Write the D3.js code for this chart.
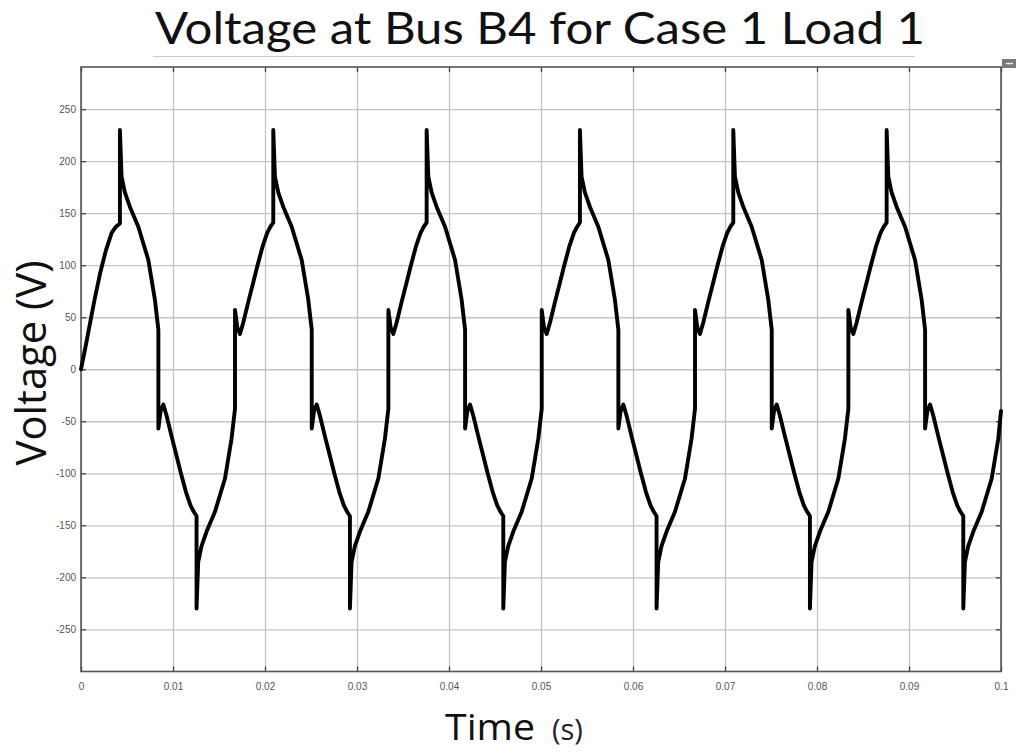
<!DOCTYPE html>
<html>
<head>
<meta charset="utf-8">
<script src="https://cdn.jsdelivr.net/npm/d3@7"></script>
<style>
  body { margin: 0; background: #fff; }
</style>
</head>
<body>
<div class="chart"></div>
<script>
const w = 1016;
const h = 752;

// plot box (pixels)
const plotL = 81;
const plotR = 1001;
const plotT = 67;
const plotB = 671.5;

const titleText = "Voltage at Bus B4 for Case 1 Load 1";

// trace, time in ms, one row per half cycle
const timeMs = [
  0, 0.5, 1.0, 1.5, 2.07, 2.7, 3.33, 3.8, 4.23, 4.23,
  4.41, 4.77, 5.32, 6.23, 7.32, 8.03, 8.41, 8.41,
  8.66, 8.95, 9.31, 9.86, 10.41, 10.86, 11.41, 11.91, 12.26, 12.56, 12.56,
  12.74, 13.10, 13.65, 14.56, 15.65, 16.36, 16.74, 16.74,
  16.99, 17.28, 17.64, 18.19, 18.74, 19.19, 19.74, 20.24, 20.59, 20.90, 20.90,
  21.08, 21.44, 21.99, 22.90, 23.99, 24.70, 25.08, 25.08,
  25.33, 25.62, 25.98, 26.53, 27.08, 27.53, 28.08, 28.58, 28.93, 29.23, 29.23,
  29.41, 29.77, 30.32, 31.23, 32.32, 33.03, 33.41, 33.41,
  33.66, 33.95, 34.31, 34.86, 35.41, 35.86, 36.41, 36.91, 37.26, 37.57, 37.57,
  37.75, 38.11, 38.66, 39.57, 40.66, 41.37, 41.75, 41.75,
  42.00, 42.29, 42.65, 43.20, 43.75, 44.20, 44.75, 45.25, 45.60, 45.90, 45.90,
  46.08, 46.44, 46.99, 47.90, 48.99, 49.70, 50.08, 50.08,
  50.33, 50.62, 50.98, 51.53, 52.08, 52.53, 53.08, 53.58, 53.93, 54.23, 54.23,
  54.41, 54.77, 55.32, 56.23, 57.32, 58.03, 58.41, 58.41,
  58.66, 58.95, 59.31, 59.86, 60.41, 60.86, 61.41, 61.91, 62.26, 62.56, 62.56,
  62.74, 63.10, 63.65, 64.56, 65.65, 66.36, 66.74, 66.74,
  66.99, 67.28, 67.64, 68.19, 68.74, 69.19, 69.74, 70.24, 70.59, 70.90, 70.90,
  71.08, 71.44, 71.99, 72.90, 73.99, 74.70, 75.08, 75.08,
  75.33, 75.62, 75.98, 76.53, 77.08, 77.53, 78.08, 78.58, 78.93, 79.23, 79.23,
  79.41, 79.77, 80.32, 81.23, 82.32, 83.03, 83.41, 83.41,
  83.66, 83.95, 84.31, 84.86, 85.41, 85.86, 86.41, 86.91, 87.26, 87.57, 87.57,
  87.75, 88.11, 88.66, 89.57, 90.66, 91.37, 91.75, 91.75,
  92.00, 92.29, 92.65, 93.20, 93.75, 94.20, 94.75, 95.25, 95.60, 95.90, 95.90,
  96.08, 96.44, 96.99, 97.90, 98.99, 99.70, 100.00
];

const voltage = [
  0, 22, 45, 68, 92, 114, 131, 137, 140, 230,
  185, 170, 156, 137, 105, 67, 38, -57,
  -40, -34, -45, -65, -84, -100, -118, -131, -137, -141, -230,
  -185, -170, -156, -137, -105, -67, -38, 57,
  40, 34, 45, 65, 84, 100, 118, 131, 137, 141, 230,
  185, 170, 156, 137, 105, 67, 38, -57,
  -40, -34, -45, -65, -84, -100, -118, -131, -137, -141, -230,
  -185, -170, -156, -137, -105, -67, -38, 57,
  40, 34, 45, 65, 84, 100, 118, 131, 137, 141, 230,
  185, 170, 156, 137, 105, 67, 38, -57,
  -40, -34, -45, -65, -84, -100, -118, -131, -137, -141, -230,
  -185, -170, -156, -137, -105, -67, -38, 57,
  40, 34, 45, 65, 84, 100, 118, 131, 137, 141, 230,
  185, 170, 156, 137, 105, 67, 38, -57,
  -40, -34, -45, -65, -84, -100, -118, -131, -137, -141, -230,
  -185, -170, -156, -137, -105, -67, -38, 57,
  40, 34, 45, 65, 84, 100, 118, 131, 137, 141, 230,
  185, 170, 156, 137, 105, 67, 38, -57,
  -40, -34, -45, -65, -84, -100, -118, -131, -137, -141, -230,
  -185, -170, -156, -137, -105, -67, -38, 57,
  40, 34, 45, 65, 84, 100, 118, 131, 137, 141, 230,
  185, 170, 156, 137, 105, 67, 38, -57,
  -40, -34, -45, -65, -84, -100, -118, -131, -137, -141, -230,
  -185, -170, -156, -137, -105, -67, -40
];

// axes
const xTicks = [0, 10, 20, 30, 40, 50, 60, 70, 80, 90, 100];
const xTickLabels = ["0", "0.01", "0.02", "0.03", "0.04", "0.05", "0.06", "0.07", "0.08", "0.09", "0.1"];
const yTicks = [-250, -200, -150, -100, -50, 0, 50, 100, 150, 200, 250];
const yTickLabels = ["-250", "-200", "-150", "-100", "-50", "0", "50", "100", "150", "200", "250"];

const svg = d3
  .select(".chart")
  .append("svg")
  .attr("width", w)
  .attr("height", h)
  .style("display", "block")
  .style("background", "#fff");

const xScale = d3.scaleLinear().domain([0, 100]).range([plotL, plotR]);
const yScale = d3.scaleLinear().domain([-290.5, 290.5]).range([plotB, plotT]);

//grid
const xGrid = svg
  .append("g")
  .attr("transform", `translate(0,${plotB})`)
  .call(d3.axisBottom(xScale).tickValues(xTicks).tickSize(-(plotB - plotT)).tickFormat(""));
const yGrid = svg
  .append("g")
  .attr("transform", `translate(${plotL},0)`)
  .call(d3.axisLeft(yScale).tickValues(yTicks).tickSize(-(plotR - plotL)).tickFormat(""));
[xGrid, yGrid].forEach((g) => {
  g.select(".domain").remove();
  g.selectAll("line").attr("stroke", "#c4c4c4").attr("stroke-width", 1.3);
});

//tick marks + labels
const xAxis = svg
  .append("g")
  .attr("transform", `translate(0,${plotB})`)
  .call(
    d3.axisBottom(xScale)
      .tickValues(xTicks)
      .tickSizeInner(-5)
      .tickSizeOuter(0)
      .tickPadding(11)
      .tickFormat((d, i) => xTickLabels[i])
  );
const yAxis = svg
  .append("g")
  .attr("transform", `translate(${plotL},0)`)
  .call(
    d3.axisLeft(yScale)
      .tickValues(yTicks)
      .tickSizeInner(-5)
      .tickSizeOuter(0)
      .tickPadding(5)
      .tickFormat((d, i) => yTickLabels[i])
  );
const xAxisTop = svg
  .append("g")
  .attr("transform", `translate(0,${plotT})`)
  .call(d3.axisTop(xScale).tickValues(xTicks).tickSizeInner(-5).tickSizeOuter(0).tickFormat(""));
const yAxisRight = svg
  .append("g")
  .attr("transform", `translate(${plotR},0)`)
  .call(d3.axisRight(yScale).tickValues(yTicks).tickSizeInner(-5).tickSizeOuter(0).tickFormat(""));

[xAxis, yAxis, xAxisTop, yAxisRight].forEach((g) => {
  g.select(".domain").remove();
  g.selectAll("line").attr("stroke", "#444").attr("stroke-width", 1.3);
  g.selectAll("text")
    .attr("fill", "#555")
    .style("font-family", "'Liberation Sans', Arial, sans-serif")
    .style("font-size", "10px");
});

// frame
svg
  .append("rect")
  .attr("x", plotL)
  .attr("y", plotT)
  .attr("width", plotR - plotL)
  .attr("height", plotB - plotT)
  .attr("fill", "none")
  .attr("stroke", "#555")
  .attr("stroke-width", 1.6);

// small scope icon in the corner
svg
  .append("rect")
  .attr("x", plotR + 1)
  .attr("y", 59)
  .attr("width", 14)
  .attr("height", 9)
  .attr("fill", "#7a7a7a");
svg
  .append("line")
  .attr("x1", plotR + 5)
  .attr("x2", plotR + 12)
  .attr("y1", 63.5)
  .attr("y2", 63.5)
  .attr("stroke", "#eee")
  .attr("stroke-width", 1.5);

// trace
const line = d3
  .line()
  .x((d) => xScale(d[0]))
  .y((d) => yScale(d[1]));

svg
  .append("path")
  .datum(d3.zip(timeMs, voltage))
  .attr("d", line)
  .attr("fill", "none")
  .attr("stroke", "#000")
  .attr("stroke-width", 3.9)
  .attr("stroke-linejoin", "round")
  .attr("stroke-linecap", "round");

// title
svg
  .append("text")
  .attr("x", 540)
  .attr("y", 44)
  .attr("text-anchor", "middle")
  .attr("textLength", 770)
  .attr("lengthAdjust", "spacingAndGlyphs")
  .style("font-family", "Lato, 'Open Sans', sans-serif")
  .style("font-size", "44px")
  .attr("fill", "#111")
  .text(titleText);

svg
  .append("line")
  .attr("x1", 153)
  .attr("x2", 915)
  .attr("y1", 56.5)
  .attr("y2", 56.5)
  .attr("stroke", "#c8c8c8")
  .attr("stroke-width", 1);

// y label
svg
  .append("text")
  .attr("transform", "translate(46,363) rotate(-90)")
  .attr("text-anchor", "middle")
  .attr("textLength", 205)
  .attr("lengthAdjust", "spacingAndGlyphs")
  .style("font-family", "'Open Sans', 'Noto Sans', sans-serif")
  .style("font-size", "42px")
  .attr("fill", "#111")
  .text("Voltage (V)");

// x label
svg
  .append("text")
  .attr("x", 445)
  .attr("y", 740)
  .attr("textLength", 90)
  .attr("lengthAdjust", "spacingAndGlyphs")
  .style("font-family", "'Open Sans', 'Noto Sans', sans-serif")
  .style("font-size", "36px")
  .attr("fill", "#111")
  .text("Time");
svg
  .append("text")
  .attr("x", 552)
  .attr("y", 740)
  .style("font-family", "'Open Sans', 'Noto Sans', sans-serif")
  .style("font-size", "29px")
  .attr("fill", "#222")
  .text("(s)");
</script>
</body>
</html>
